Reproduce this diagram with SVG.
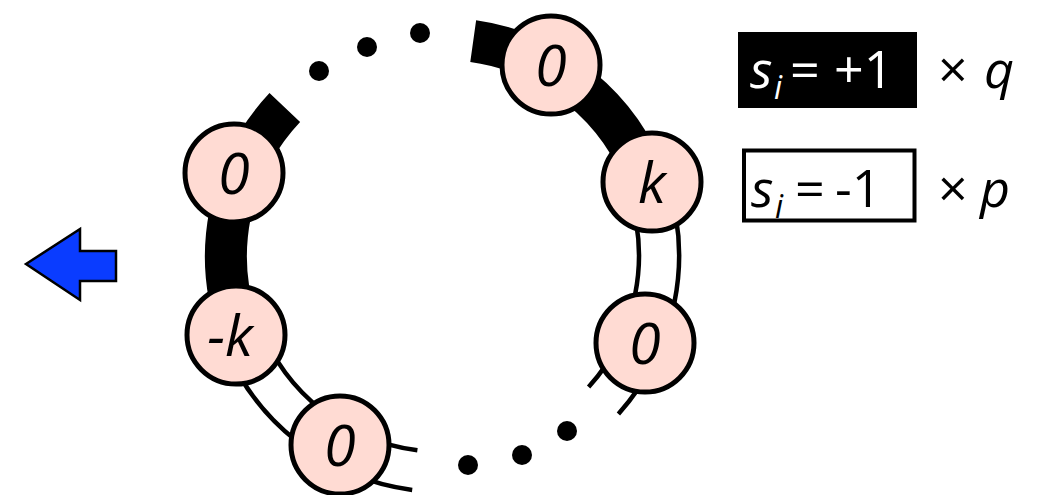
<svg xmlns="http://www.w3.org/2000/svg" width="1039" height="495" viewBox="0 0 1039 495">
<style>
.node circle{fill:#ffdbd3;stroke:#000;stroke-width:5}
.node text{font-family:"Open Sans","Liberation Sans",sans-serif;font-style:italic;font-size:57px;text-anchor:middle;fill:#000}
.thick{fill:none;stroke:#000;stroke-width:42}
.thin{fill:none;stroke:#000;stroke-width:4.5}
.dot{fill:#000}
.leg{font-family:"Open Sans","Liberation Sans",sans-serif;font-size:52px}
.it{font-style:italic}
</style>
<rect width="1039" height="495" fill="#fff"/>
<g id="connectors">
<path class="thick" d="M473.2,41.1 A217,217 0 0 1 647.5,183.6"/>
<path class="thick" d="M284.8,107.5 A217,217 0 0 0 240.4,333.8"/>
<path class="thin" d="M627.7,190.6 A196,196 0 0 1 588.6,387.1"/>
<path class="thin" d="M665.5,177.2 A236,236 0 0 1 618.4,413.9"/>
<path class="thin" d="M260.0,326.2 A196,196 0 0 0 417.4,450.3"/>
<path class="thin" d="M222.7,340.6 A236,236 0 0 0 412.2,490.0"/>
<circle class="dot" cx="319" cy="71" r="10"/>
<circle class="dot" cx="367" cy="47" r="10"/>
<circle class="dot" cx="420" cy="33" r="10"/>
<circle class="dot" cx="468" cy="465" r="10"/>
<circle class="dot" cx="522" cy="455" r="10"/>
<circle class="dot" cx="567" cy="431" r="10"/>
</g>
<g id="node-top0" class="node"><circle cx="551" cy="65" r="49"/><text x="551" y="86">0</text></g>
<g id="node-k" class="node"><circle cx="652" cy="182" r="49"/><text x="652" y="203">k</text></g>
<g id="node-right0" class="node"><circle cx="645" cy="343" r="49"/><text x="645" y="364">0</text></g>
<g id="node-left0" class="node"><circle cx="234" cy="173" r="49"/><text x="234" y="194">0</text></g>
<g id="node-minusk" class="node"><circle cx="236" cy="335" r="49"/><text x="230" y="356">-k</text></g>
<g id="node-bottom0" class="node"><circle cx="340" cy="445" r="49"/><text x="340" y="466">0</text></g>
<g id="arrow"><polygon points="26,264 80,229 80,251 116,251 116,281 80,281 80,300" fill="#0a3cff" stroke="#000" stroke-width="2.5" stroke-linejoin="miter"/></g>
<g id="legend-plus">
<rect x="738" y="32" width="179" height="76" fill="#000"/>
<text class="leg" y="88" fill="#fff"><tspan class="it" x="750">s</tspan><tspan class="it" x="774" y="99" font-size="32">i</tspan><tspan x="790" y="88">=</tspan><tspan x="834">+1</tspan></text>
<text class="leg" y="88" fill="#000"><tspan x="938">×</tspan><tspan class="it" x="984">q</tspan></text>
</g>
<g id="legend-minus">
<rect x="744" y="150.5" width="170.5" height="70" fill="#fff" stroke="#000" stroke-width="4"/>
<text class="leg" y="207" fill="#000"><tspan class="it" x="751">s</tspan><tspan class="it" x="775" y="218" font-size="32">i</tspan><tspan x="795" y="207">=</tspan><tspan x="835">-1</tspan></text>
<text class="leg" y="207" fill="#000"><tspan x="938">×</tspan><tspan class="it" x="980">p</tspan></text>
</g>
</svg>
